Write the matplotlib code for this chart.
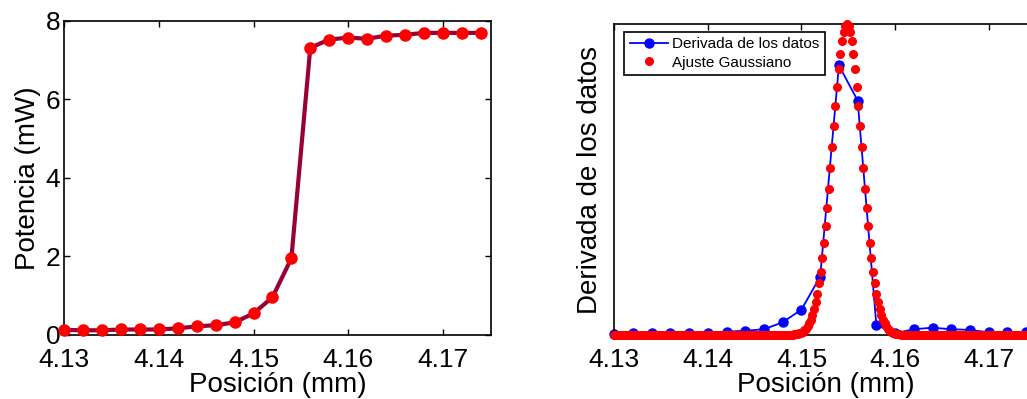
import numpy as np
import matplotlib
matplotlib.use("Agg")
import matplotlib.pyplot as plt

plt.rcParams['font.family'] = ['Liberation Sans', 'DejaVu Sans']

# ---- data ----
position = [4.130, 4.132, 4.134, 4.136, 4.138, 4.140, 4.142, 4.144, 4.146, 4.148,
            4.150, 4.152, 4.154, 4.156, 4.158, 4.160, 4.162, 4.164, 4.166, 4.168,
            4.170, 4.172, 4.174]
power_mw = [0.13, 0.12, 0.12, 0.14, 0.14, 0.14, 0.17, 0.22, 0.25, 0.32,
            0.55, 0.96, 1.95, 7.31, 7.52, 7.57, 7.54, 7.62, 7.64, 7.69,
            7.69, 7.69, 7.69]
derivative = [4, 14, 14, 14, 14, 14, 20, 25, 34, 75,
              150, 344, 1588, 1381, 59, 10, 34, 43, 34, 30,
              16, 16, 16]

# Gaussian fit samples, step 0.000175 mm from 4.130
fit_start = 4.130
fit_step = 0.000175
fit_count = 258
fit_zeros_before = 108
fit_peak_part = [1.4, 2.1, 3.1, 4.7, 6.8, 9.8, 14.0, 19.7, 27.4, 37.6, 51.0, 68.3,
                 90.3, 118.0, 152.3, 194.1, 244.2, 303.6, 372.7, 451.9, 541.2,
                 640.1, 747.7, 862.6, 982.8, 1106.0, 1229.4, 1349.6, 1463.1,
                 1566.6, 1656.8, 1730.4, 1785.1, 1818.7, 1830.0, 1818.7, 1785.1,
                 1730.4, 1656.8, 1566.6, 1463.1, 1349.6, 1229.4, 1106.0, 982.8,
                 862.6, 747.7, 640.1, 541.2, 451.9, 372.7, 303.6, 244.2, 194.1,
                 152.3, 118.0, 90.3, 68.3, 51.0, 37.6, 27.4, 19.7, 14.0, 9.8,
                 6.8, 4.7, 3.1, 2.1, 1.4]
fit_y = ([0.0] * fit_zeros_before + fit_peak_part
         + [0.0] * (fit_count - fit_zeros_before - len(fit_peak_part)))
fit_x = np.round(fit_start + fit_step * np.arange(fit_count), 6)

xticks = [4.13, 4.14, 4.15, 4.16, 4.17]
xtick_labels = ['4.13', '4.14', '4.15', '4.16', '4.17']
yticks_left = [0, 2, 4, 6, 8]

W, H = 1027, 399
fig = plt.figure(figsize=(W / 100, H / 100), dpi=100)

def frac(l, t, r, b):
    return [l / W, 1 - b / H, (r - l) / W, (b - t) / H]

tick_kw = dict(direction='in', length=4, width=1.0, labelsize=19)

# ---- left ----
ax1 = fig.add_axes(frac(64.3, 20.7, 491, 335))
ax1.plot(position, power_mw, '-', color='#990033', lw=3, zorder=2)
ax1.plot(position, power_mw, 'o', color='#ff0000', ms=8, mec='#ff0000',
         zorder=3, clip_on=False)
ax1.set_xlim(4.13, 4.1751)
ax1.set_ylim(0, 8)
ax1.set_xticks(xticks)
ax1.set_xticklabels(xtick_labels)
ax1.set_yticks(yticks_left)
ax1.tick_params(axis='both', top=True, right=True, **tick_kw)
ax1.tick_params(axis='x', pad=9.5)
ax1.tick_params(axis='y', pad=3)
ax1.set_xlabel('Posición (mm)', fontsize=20, labelpad=0)
ax1.set_ylabel('Potencia (mW)', fontsize=20, labelpad=3)
for s in ax1.spines.values():
    s.set_linewidth(1.2)

# ---- right ----
ax2 = fig.add_axes(frac(614.3, 24.3, 1036.4, 335))
ax2.plot(position, derivative, '-o', color='#0000ff', lw=1.3, ms=6.5,
         mec='#0000ff', label='Derivada de los datos', clip_on=False, zorder=2)
ax2.plot(fit_x, fit_y, 'o', color='#ff0000', ms=5.5, mec='#ff0000', lw=0,
         label='Ajuste Gaussiano', clip_on=False, zorder=3)
ax2.set_xlim(4.13, 4.1751)
ax2.set_ylim(0, 1830)
ax2.set_xticks(xticks)
ax2.set_xticklabels(xtick_labels)
ax2.set_yticks([])
ax2.tick_params(axis='x', top=True, pad=9.5, **tick_kw)
ax2.set_xlabel('Posición (mm)', fontsize=20, labelpad=0)
ax2.set_ylabel('Derivada de los datos', fontsize=20, labelpad=8)
for s in ax2.spines.values():
    s.set_linewidth(1.2)
leg = ax2.legend(loc='upper left', bbox_to_anchor=(10 / 422, 1 - 7.4 / 310.7),
                 borderaxespad=0, fontsize=11, frameon=True, fancybox=False,
                 edgecolor='black', framealpha=1, handlelength=2.5,
                 handletextpad=0.3, labelspacing=0.3, borderpad=0.35,
                 numpoints=1)
leg.get_frame().set_linewidth(1.2)

fig.savefig('out.png', dpi=100)
